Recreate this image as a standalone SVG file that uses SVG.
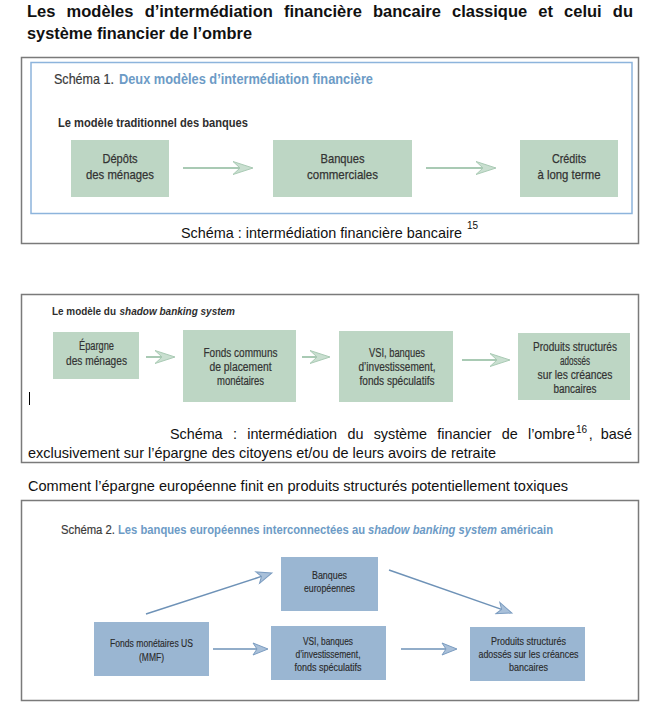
<svg xmlns="http://www.w3.org/2000/svg" width="660" height="713" viewBox="0 0 660 713">
<style>
.frame{fill:none;stroke:#7a7a7a;stroke-width:1.5}
.inner{fill:none;stroke:#8db4dc;stroke-width:1.5}
.gbox{fill:#bdd6c4}
.bbox{fill:#9ab6d2}
.cal{font-family:"Liberation Sans",Arial,sans-serif;fill:#111}
.cond{font-family:"Liberation Sans Narrow","Liberation Sans",Arial,sans-serif}
.gt{font-family:"Liberation Sans Narrow","Liberation Sans",Arial,sans-serif;fill:#333;stroke:#333;stroke-width:0.25;font-size:13.5px;text-anchor:middle}
.gt2{font-family:"Liberation Sans Narrow","Liberation Sans",Arial,sans-serif;fill:#333;stroke:#333;stroke-width:0.2;font-size:12px;text-anchor:middle}
.bt{font-family:"Liberation Sans Narrow","Liberation Sans",Arial,sans-serif;fill:#2a2a2a;stroke:#2a2a2a;stroke-width:0.15;font-size:11px;text-anchor:middle}
.gl{stroke:#a9cab4;stroke-width:2;fill:none}
.bl{stroke:#6e92b7;stroke-width:1.5;fill:none}
.blue{fill:#6d9bc6;font-weight:bold}
.dark{fill:#3a3a3a;stroke:#3a3a3a;stroke-width:0.2}
</style>
<defs>
<marker id="gh" viewBox="-8 -8 23 16" refX="0" refY="0" markerWidth="23" markerHeight="16" markerUnits="userSpaceOnUse" orient="auto">
<path d="M13,0 L-7,-6.5 L0,0 L-7,6.5 Z" fill="#c9dfd0" stroke="#a9cab4" stroke-width="1"/>
</marker>
<marker id="bh" viewBox="-6 -7 19 14" refX="0" refY="0" markerWidth="19" markerHeight="14" markerUnits="userSpaceOnUse" orient="auto">
<path d="M11,0 L-4,-6 L0,0 L-4,6 Z" fill="#a9c0d9" stroke="#7b9cc0" stroke-width="1"/>
</marker>
</defs>
<rect width="660" height="713" fill="#fff"/>

<g id="title">
<text class="cal" x="27" y="17" font-size="16.5" font-weight="bold" word-spacing="6.6" textLength="606" lengthAdjust="spacing">Les modèles d’intermédiation financière bancaire classique et celui du</text>
<text class="cal" x="27" y="39" font-size="16.5" font-weight="bold" textLength="225" lengthAdjust="spacingAndGlyphs">système financier de l’ombre</text>
</g>

<!-- Section 1 -->
<g id="schema1">
<rect class="frame" x="21.5" y="57.5" width="617" height="186"/>
<rect class="inner" x="31" y="62.5" width="601" height="151"/>
<text class="cond dark" x="54" y="84" font-size="14.5" textLength="60" lengthAdjust="spacingAndGlyphs">Schéma 1.</text>
<text class="cond blue" x="119" y="84" font-size="14.5" textLength="254" lengthAdjust="spacingAndGlyphs">Deux modèles d’intermédiation financière</text>
<text class="cond" x="58" y="127" font-size="13.5" font-weight="bold" fill="#2e2e2e" textLength="190" lengthAdjust="spacingAndGlyphs">Le modèle traditionnel des banques</text>
<text class="cal" x="181" y="238" font-size="14.4" textLength="281" lengthAdjust="spacingAndGlyphs">Schéma : intermédiation financière bancaire</text>
<text class="cal" x="467" y="229" font-size="10">15</text>
</g>
<g id="n-depots">
<rect class="gbox" x="71" y="140" width="98" height="57"/>
<text class="gt" x="120" y="163" textLength="35" lengthAdjust="spacingAndGlyphs">Dépôts</text>
<text class="gt" x="120" y="179" textLength="68" lengthAdjust="spacingAndGlyphs">des ménages</text>
</g>
<g id="n-banques">
<rect class="gbox" x="273" y="140" width="139" height="57"/>
<text class="gt" x="342.5" y="163" textLength="44" lengthAdjust="spacingAndGlyphs">Banques</text>
<text class="gt" x="342.5" y="179" textLength="71" lengthAdjust="spacingAndGlyphs">commerciales</text>
</g>
<g id="n-credits">
<rect class="gbox" x="520" y="140" width="98" height="57"/>
<text class="gt" x="569" y="163" textLength="34" lengthAdjust="spacingAndGlyphs">Crédits</text>
<text class="gt" x="569" y="179" textLength="63" lengthAdjust="spacingAndGlyphs">à long terme</text>
</g>

<!-- Section 2 -->
<g id="schema-shadow">
<rect class="frame" x="21.5" y="294.5" width="617" height="168"/>
<text class="cond" x="52" y="315" font-size="11.5" font-weight="bold" fill="#2e2e2e" textLength="64" lengthAdjust="spacingAndGlyphs">Le modèle du</text>
<text class="cond" x="119.5" y="315" font-size="11.5" font-weight="bold" font-style="italic" fill="#2e2e2e" textLength="115.5" lengthAdjust="spacingAndGlyphs">shadow banking system</text>
<line x1="29.5" y1="392" x2="29.5" y2="405" stroke="#000" stroke-width="1"/>
<text class="cal" x="170" y="439" font-size="14.4" word-spacing="6.4" textLength="405" lengthAdjust="spacing">Schéma : intermédiation du système financier de l’ombre</text>
<text class="cal" x="576" y="433" font-size="10">16</text>
<text class="cal" x="632" y="439" font-size="14.4" text-anchor="end" word-spacing="4">, basé</text>
<text class="cal" x="28" y="458" font-size="14.4" textLength="468" lengthAdjust="spacingAndGlyphs">exclusivement sur l’épargne des citoyens et/ou de leurs avoirs de retraite</text>
</g>
<g id="n-epargne">
<rect class="gbox" x="53" y="332" width="86" height="47"/>
<text class="gt2" x="96.5" y="350" textLength="35" lengthAdjust="spacingAndGlyphs">Épargne</text>
<text class="gt2" x="96.5" y="365" textLength="61" lengthAdjust="spacingAndGlyphs">des ménages</text>
</g>
<g id="n-fonds">
<rect class="gbox" x="183" y="330" width="113" height="72"/>
<text class="gt2" x="240.5" y="357" textLength="74" lengthAdjust="spacingAndGlyphs">Fonds communs</text>
<text class="gt2" x="240.5" y="371" textLength="62" lengthAdjust="spacingAndGlyphs">de placement</text>
<text class="gt2" x="240.5" y="385" textLength="47" lengthAdjust="spacingAndGlyphs">monétaires</text>
</g>
<g id="n-vsi">
<rect class="gbox" x="339" y="331" width="114" height="71"/>
<text class="gt2" x="397" y="357" textLength="56" lengthAdjust="spacingAndGlyphs">VSI, banques</text>
<text class="gt2" x="397" y="371" textLength="77" lengthAdjust="spacingAndGlyphs">d’investissement,</text>
<text class="gt2" x="397" y="385" textLength="75" lengthAdjust="spacingAndGlyphs">fonds spéculatifs</text>
</g>
<g id="n-produits">
<rect class="gbox" x="518" y="333" width="112" height="67"/>
<text class="gt2" x="575" y="351" textLength="84" lengthAdjust="spacingAndGlyphs">Produits structurés</text>
<text class="gt2" x="575" y="365" textLength="30" lengthAdjust="spacingAndGlyphs">adossés</text>
<text class="gt2" x="575" y="379" textLength="75" lengthAdjust="spacingAndGlyphs">sur les créances</text>
<text class="gt2" x="575" y="393" textLength="43" lengthAdjust="spacingAndGlyphs">bancaires</text>
</g>

<!-- Section 3 -->
<g id="schema2">
<text class="cal" x="28" y="491" font-size="14.4" textLength="540" lengthAdjust="spacingAndGlyphs">Comment l’épargne européenne finit en produits structurés potentiellement toxiques</text>
<rect class="frame" x="21.5" y="500.5" width="617" height="200"/>
<text class="cond dark" transform="translate(61,534) scale(0.83,1)" font-size="13.5" textLength="65" lengthAdjust="spacingAndGlyphs">Schéma 2.</text>
<text class="cond blue" transform="translate(118,534) scale(0.83,1)" font-size="13.5" textLength="297.6" lengthAdjust="spacingAndGlyphs">Les banques européennes interconnectées au</text>
<text class="cond blue" transform="translate(368,534) scale(0.83,1)" font-size="13.5" font-style="italic" textLength="155.4" lengthAdjust="spacingAndGlyphs">shadow banking system</text>
<text class="cond blue" transform="translate(500.5,534) scale(0.83,1)" font-size="13.5" textLength="63.3" lengthAdjust="spacingAndGlyphs">américain</text>
</g>
<g id="n-banques-eu">
<rect class="bbox" x="281" y="557" width="97" height="54"/>
<text class="bt" x="329.5" y="579" textLength="35" lengthAdjust="spacingAndGlyphs">Banques</text>
<text class="bt" x="329.5" y="592" textLength="51" lengthAdjust="spacingAndGlyphs">européennes</text>
</g>
<g id="n-mmf">
<rect class="bbox" x="94" y="622" width="115" height="54"/>
<text class="bt" x="151.5" y="647" textLength="83" lengthAdjust="spacingAndGlyphs">Fonds monétaires US</text>
<text class="bt" x="151.5" y="661" textLength="25" lengthAdjust="spacingAndGlyphs">(MMF)</text>
</g>
<g id="n-vsi2">
<rect class="bbox" x="271" y="626" width="115" height="54"/>
<text class="bt" x="328" y="645" textLength="50" lengthAdjust="spacingAndGlyphs">VSI, banques</text>
<text class="bt" x="328" y="658" textLength="65" lengthAdjust="spacingAndGlyphs">d’investissement,</text>
<text class="bt" x="328" y="671" textLength="67" lengthAdjust="spacingAndGlyphs">fonds spéculatifs</text>
</g>
<g id="n-produits2">
<rect class="bbox" x="470" y="627" width="115" height="54"/>
<text class="bt" x="528.5" y="645" textLength="75" lengthAdjust="spacingAndGlyphs">Produits structurés</text>
<text class="bt" x="528.5" y="658" textLength="100" lengthAdjust="spacingAndGlyphs">adossés sur les créances</text>
<text class="bt" x="528.5" y="671" textLength="39" lengthAdjust="spacingAndGlyphs">bancaires</text>
</g>

<g id="connectors">
<line class="gl" x1="183" y1="168" x2="240" y2="168" marker-end="url(#gh)"/>
<line class="gl" x1="426" y1="168" x2="483" y2="168" marker-end="url(#gh)"/>
<line class="gl" x1="146" y1="357" x2="162" y2="357" marker-end="url(#gh)"/>
<line class="gl" x1="302" y1="357" x2="317" y2="357" marker-end="url(#gh)"/>
<line class="gl" x1="462" y1="360" x2="497" y2="360" marker-end="url(#gh)"/>
<line class="bl" x1="146" y1="614" x2="261.5" y2="576.4" marker-end="url(#bh)"/>
<line class="bl" x1="389" y1="570" x2="501.6" y2="609.4" marker-end="url(#bh)"/>
<line class="bl" x1="213" y1="649" x2="257" y2="649" marker-end="url(#bh)"/>
<line class="bl" x1="401" y1="649" x2="446" y2="649" marker-end="url(#bh)"/>
</g>
</svg>
